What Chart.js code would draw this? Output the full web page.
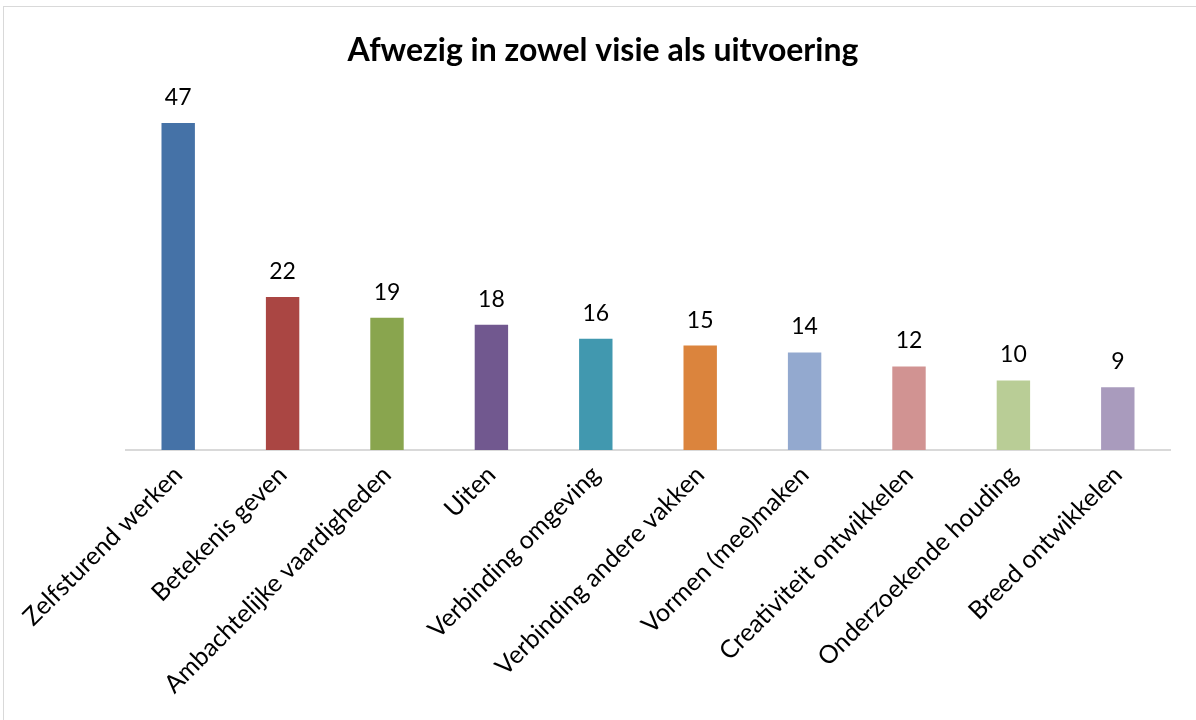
<!DOCTYPE html>
<html>
<head>
<meta charset="utf-8">
<script src="https://cdn.jsdelivr.net/npm/chart.js@4"></script>
<style>
  body { margin: 0; background: #fff; }
  #wrap { position: relative; width: 1196px; height: 720px; }
</style>
</head>
<body>
<div id="wrap"><canvas id="barChart"></canvas></div>
<script>
var chartTitle = "Afwezig in zowel visie als uitvoering";
var categories = [
    "Zelfsturend werken",
    "Betekenis geven",
    "Ambachtelijke vaardigheden",
    "Uiten",
    "Verbinding omgeving",
    "Verbinding andere vakken",
    "Vormen (mee)maken",
    "Creativiteit ontwikkelen",
    "Onderzoekende houding",
    "Breed ontwikkelen"
];
var counts = [47, 22, 19, 18, 16, 15, 14, 12, 10, 9];
var barColors = [
    "#4572A7", "#AA4643", "#89A54E", "#71588F", "#4198AF",
    "#DB843D", "#93A9CF", "#D19392", "#B9CD96", "#A99BBD"
];

var fontName = "Lato, 'Open Sans', sans-serif";

// light frame + title centred on the whole canvas (not on the plot area)
var framePlugin = {
    id: "frame",
    beforeDraw: function (chart) {
        var ctx = chart.ctx;
        ctx.save();
        ctx.strokeStyle = "#d9d9d9";
        ctx.lineWidth = 1;
        ctx.strokeRect(3.5, 6.5, 1400, 1000);
        ctx.font = "bold 32px " + fontName;
        ctx.fillStyle = "#000";
        ctx.textAlign = "center";
        ctx.textBaseline = "middle";
        ctx.fillText(chartTitle, chart.width / 2 + 5, 51);
        ctx.restore();
    }
};

// numbers above the bars
var valueLabels = {
    id: "valueLabels",
    afterDatasetsDraw: function (chart) {
        var ctx = chart.ctx;
        var meta = chart.getDatasetMeta(0);
        ctx.save();
        ctx.font = "23px " + fontName;
        ctx.fillStyle = "#000";
        ctx.textAlign = "center";
        ctx.textBaseline = "bottom";
        meta.data.forEach(function (bar, i) {
            ctx.fillText(chart.data.datasets[0].data[i], bar.x, bar.y - 14);
        });
        ctx.restore();
    }
};

var ctx = document.getElementById("barChart").getContext("2d");
var barChart = new Chart(ctx, {
    type: "bar",
    data: {
        labels: categories,
        datasets: [
            {
                label: "",
                data: counts,
                backgroundColor: barColors,
                borderWidth: 0,
                barPercentage: 0.64,
                categoryPercentage: 0.5
            }
        ]
    },
    options: {
        responsive: true,
        maintainAspectRatio: false,
        animation: false,
        layout: {
            padding: { top: 102, right: 26, left: 126, bottom: 0 }
        },
        plugins: {
            legend: { display: false },
            tooltip: { enabled: false },
            title: { display: false }
        },
        scales: {
            y: {
                display: false,
                min: 0,
                max: 50
            },
            x: {
                grid: { display: false },
                border: { color: "#d9d9d9", width: 2 },
                ticks: {
                    color: "#000",
                    font: { family: fontName, size: 25 },
                    minRotation: 45,
                    maxRotation: 45,
                    autoSkip: false,
                    padding: 2
                },
                afterFit: function (scale) {
                    scale.height = 270;
                }
            }
        }
    },
    plugins: [framePlugin, valueLabels]
});
</script>
</body>
</html>
